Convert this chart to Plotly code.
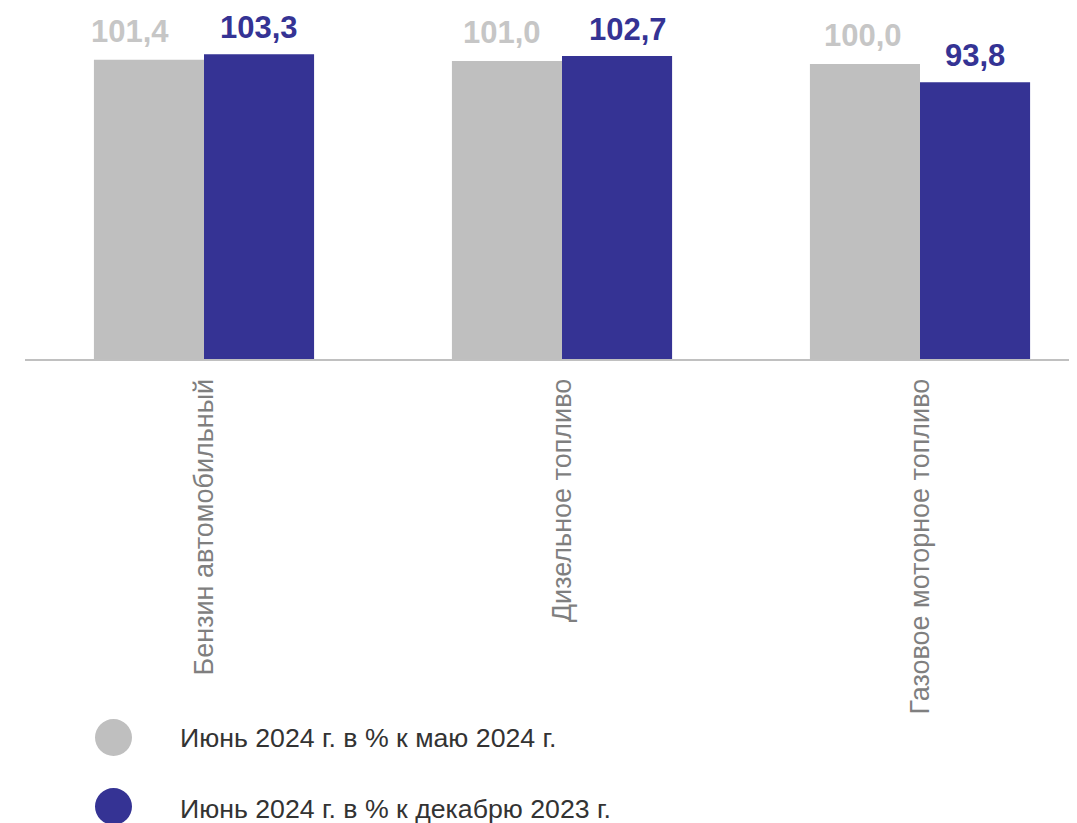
import plotly.graph_objects as go

categories = ["Бензин автомобильный", "Дизельное топливо", "Газовое моторное топливо"]
series_names = ["Июнь 2024 г. в % к маю 2024 г.", "Июнь 2024 г. в % к декабрю 2023 г."]
may_vals = [101.4, 101.0, 100.0]
dec_vals = [103.3, 102.7, 93.8]
value_labels_may = ["101,4", "101,0", "100,0"]
value_labels_dec = ["103,3", "102,7", "93,8"]

# style: small horizontal nudges of value labels as in the original layout
label_xshift_may = [-19, -5, -2]
label_xshift_dec = [0, 11, 0]

GREY = "#bfbfbf"
GREY_TXT = "#c6c6c6"
BLUE = "#353394"
FONT = "Liberation Sans, Arial, sans-serif"

W, H = 1093, 823
ML, MR, MT = 17, 0, 0
PLOT_H = 351
MB = H - MT - PLOT_H
PLOT_W = W - ML - MR
CAT_PX = 358.0
bargap = 0.385
xs = list(range(len(categories)))

fig = go.Figure()
fig.add_trace(go.Bar(x=xs, y=may_vals, name=series_names[0], marker_color=GREY,
                     marker_line_width=0, showlegend=False))
fig.add_trace(go.Bar(x=xs, y=dec_vals, name=series_names[1], marker_color=BLUE,
                     marker_line_width=0, showlegend=False))

off = (1 - bargap) / 4
for i in xs:
    fig.add_annotation(x=i - off, y=may_vals[i], text="<b>%s</b>" % value_labels_may[i],
                       showarrow=False, yanchor="bottom", yshift=9, xshift=label_xshift_may[i],
                       font=dict(family=FONT, size=31, color=GREY_TXT))
    fig.add_annotation(x=i + off, y=dec_vals[i], text="<b>%s</b>" % value_labels_dec[i],
                       showarrow=False, yanchor="bottom", yshift=7, xshift=label_xshift_dec[i],
                       font=dict(family=FONT, size=31, color=BLUE))

# manual legend
def px_to_paper_x(px):
    return (px - ML) / PLOT_W

def px_to_paper_y(py):
    return (MT + PLOT_H - py) / PLOT_H

circle_y = [729.5, 798.5]
text_y = [730, 801]
legend_cols = [GREY, BLUE]
r = 18.5
cx = 105.5
for name, cy, ty, col in zip(series_names, circle_y, text_y, legend_cols):
    fig.add_shape(type="circle", xref="paper", yref="paper",
                  x0=px_to_paper_x(cx - r), x1=px_to_paper_x(cx + r),
                  y0=px_to_paper_y(cy + r), y1=px_to_paper_y(cy - r),
                  fillcolor=col, line_width=0)
    fig.add_annotation(xref="paper", yref="paper", x=px_to_paper_x(170), y=px_to_paper_y(ty),
                       text=name, showarrow=False, xanchor="left", yanchor="middle",
                       font=dict(family=FONT, size=26.7, color="#333333"))

fig.update_layout(
    width=W, height=H,
    margin=dict(l=ML, r=MR, t=MT, b=MB, pad=0),
    barmode="group", bargap=bargap, bargroupgap=0,
    plot_bgcolor="white", paper_bgcolor="white",
    showlegend=False,
    xaxis=dict(range=[-0.5, -0.5 + PLOT_W / CAT_PX], tickmode="array", tickvals=xs,
               ticktext=categories, tickangle=-90, showline=True, linecolor="#c0c0c0",
               linewidth=2, showgrid=False, zeroline=False, ticks="outside", ticklen=7,
               tickcolor="rgba(0,0,0,0)",
               tickfont=dict(family=FONT, size=27, color="#7f7f7f")),
    yaxis=dict(range=[0, PLOT_H / 2.95], visible=False, showgrid=False, zeroline=False),
)

fig.write_html("out.html")
